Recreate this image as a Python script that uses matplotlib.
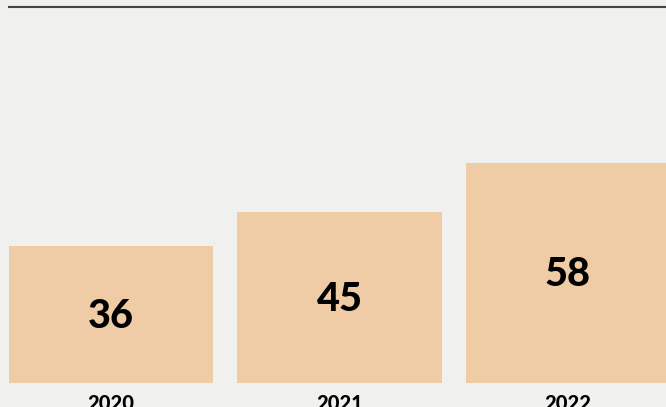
import matplotlib.pyplot as plt

# data
years = ["2020", "2021", "2022"]
values = [36, 45, 58]

bg = "#f0f0ee"
bar_color = "#efcca5"

fig = plt.figure(figsize=(6.66, 4.07), dpi=100, facecolor=bg)
# axes spans from x=9px to right edge, top line at y=7px, baseline at y=383px
ax = fig.add_axes([9 / 666, (407 - 383) / 407, 657 / 666, (383 - 7) / 407])
ax.set_facecolor(bg)

pos = list(range(len(years)))
ax.bar(pos, values, width=0.893, color=bar_color, zorder=2)

for x, v in zip(pos, values):
    ax.text(x, v / 2 - 0.5, str(v), ha="center", va="center", fontsize=28.5,
            fontweight="black", family="Lato", color="black", zorder=3)

ax.set_xlim(-0.4465, 2.429)
ax.set_ylim(0, 99)

ax.set_xticks(pos)
ax.set_xticklabels(years, fontsize=14.5, fontweight="black", family="Lato")
ax.tick_params(axis="x", length=0, pad=8)
ax.set_yticks([])

for s in ["left", "right", "bottom"]:
    ax.spines[s].set_visible(False)
ax.spines["top"].set_color("#444444")
ax.spines["top"].set_linewidth(1.5)

fig.savefig("out.png", dpi=100, facecolor=bg)
